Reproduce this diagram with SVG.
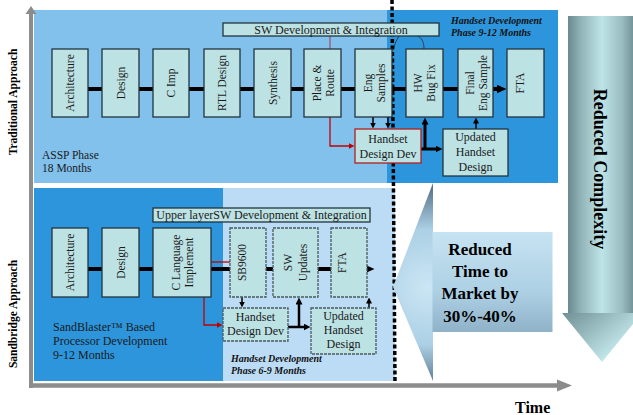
<svg xmlns="http://www.w3.org/2000/svg" width="633" height="415" viewBox="0 0 633 415">
<defs>
<style>
.box{fill:#bde2e4;stroke:#22343c;stroke-width:1.3}
.dbox{fill:#bde2e4;stroke:#4a5a60;stroke-width:1.3;stroke-dasharray:3 1}
.rbox{fill:#bde2e4;stroke:#b02020;stroke-width:1.3}
.t{font-family:"Liberation Serif","Times New Roman",serif;font-size:11.5px;fill:#1a1a1a}
.h{font-family:"Liberation Serif","Times New Roman",serif;font-size:12px;fill:#1a1a1a}
.c{text-anchor:middle}
.bi{font-family:"Liberation Serif","Times New Roman",serif;font-size:10px;font-weight:bold;font-style:italic;fill:#111}
.big{font-family:"Liberation Serif","Times New Roman",serif;font-weight:bold;fill:#000}
.ln{fill:none;stroke:#000}
.rd{fill:none;stroke:#c00000;stroke-width:1.3}
</style>
<marker id="a" markerUnits="userSpaceOnUse" markerWidth="10" markerHeight="9" refX="0.5" refY="4.5" orient="auto"><path d="M0,0 L10,4.5 L0,9 z" fill="#000"/></marker>
<marker id="m" markerUnits="userSpaceOnUse" markerWidth="7" markerHeight="7" refX="0.5" refY="3.5" orient="auto"><path d="M0,0 L7,3.5 L0,7 z" fill="#000"/></marker>
<marker id="s" markerUnits="userSpaceOnUse" markerWidth="6" markerHeight="6" refX="0.5" refY="3" orient="auto"><path d="M0,0 L6,3 L0,6 z" fill="#000"/></marker>
<marker id="r" markerUnits="userSpaceOnUse" markerWidth="6" markerHeight="6" refX="0.5" refY="3" orient="auto"><path d="M0,0 L6,3 L0,6 z" fill="#c00000"/></marker>
<radialGradient id="hg" gradientUnits="userSpaceOnUse" cx="428" cy="287" r="105">
<stop offset="0" stop-color="#cbe6f4"/><stop offset="0.55" stop-color="#acd0e5"/><stop offset="1" stop-color="#4d687d"/>
</radialGradient>
<linearGradient id="sg" gradientUnits="userSpaceOnUse" x1="0" y1="232" x2="0" y2="332">
<stop offset="0" stop-color="#c6e3f2"/><stop offset="0.6" stop-color="#add0e4"/><stop offset="1" stop-color="#8fb2c9"/>
</linearGradient>
<linearGradient id="cg" gradientUnits="userSpaceOnUse" x1="568" y1="0" x2="636" y2="0">
<stop offset="0" stop-color="#6a8a8e"/><stop offset="0.18" stop-color="#8fb2b6"/><stop offset="0.5" stop-color="#bfe4e8"/><stop offset="0.8" stop-color="#98bcc0"/><stop offset="1" stop-color="#6a8a8e"/>
</linearGradient>
<linearGradient id="cg2" gradientUnits="userSpaceOnUse" x1="562" y1="313" x2="602" y2="362">
<stop offset="0" stop-color="#6f9094"/><stop offset="1" stop-color="#c2e7ea"/>
</linearGradient>
</defs>
<rect width="633" height="415" fill="#fff"/>
<g id="panels">
<rect x="34" y="10" width="353" height="173" fill="#82c1ec"/>
<rect x="387" y="10" width="171" height="173" fill="#2d95dc"/>
<rect x="34" y="188" width="189" height="193" fill="#2d95dc"/>
<rect x="223" y="188" width="172" height="193" fill="#bcdcf5"/>
</g>
<g id="axes">
<path d="M31,388 V13" stroke="#8c8c8c" stroke-width="4" fill="none"/>
<path d="M25.5,14 L36.5,14 L31,6 z" fill="#8c8c8c"/>
<path d="M29,385.5 H558" stroke="#8c8c8c" stroke-width="4.5" fill="none"/>
<path d="M557,379.5 L557,391.5 L572,385.5 z" fill="#8c8c8c"/>
<text class="big" font-size="11.5" text-anchor="middle" transform="translate(13,102) rotate(-90)" y="4">Traditional Approach</text>
<text class="big" font-size="11.5" text-anchor="middle" transform="translate(13,314) rotate(-90)" y="4">Sandbridge Approach</text>
<text class="big" font-size="16" x="515" y="413">Time</text>
</g>
<g id="connectors">
<path class="ln" d="M88,89 H497" stroke-width="4" marker-end="url(#a)"/>
<path class="ln" d="M373,117 V123" stroke-width="1.5" marker-end="url(#s)"/>
<path class="ln" d="M388,117 V123" stroke-width="1.5" marker-end="url(#s)"/>
<path class="ln" d="M421,149 H436" stroke-width="3" marker-end="url(#m)"/>
<path class="ln" d="M425,150 V124" stroke-width="3" marker-end="url(#m)"/>
<path class="ln" d="M476,129 V123" stroke-width="1.5" marker-end="url(#s)"/>
<path d="M330,36 V49" fill="none" stroke="#9a5870" stroke-width="1.3"/>
<path class="rd" d="M330,49 V146 H349" marker-end="url(#r)"/>
<path d="M399,36 C396,41 394,45 394,49" fill="none" stroke="#28405a" stroke-width="1"/>
<path d="M418,36 C423,39 424,44 424,49" fill="none" stroke="#28405a" stroke-width="1"/>
<path class="ln" d="M88,269 H365" stroke-width="4" marker-end="url(#a)"/>
<path class="rd" d="M211,262 H230"/>
<path class="rd" d="M204,297 V325 H217" marker-end="url(#r)"/>
<path class="ln" d="M242,297 V302" stroke-width="1.5" marker-end="url(#s)"/>
<path class="ln" d="M288,327 H304" stroke-width="2.5" marker-end="url(#m)"/>
<path class="ln" d="M299,328 V304" stroke-width="2.5" marker-end="url(#m)"/>
<path class="ln" d="M369,308 V303" stroke-width="1.5" marker-end="url(#s)"/>
</g>
<line id="boundary" x1="392" y1="0" x2="395" y2="383" stroke="#000" stroke-width="3.5" stroke-dasharray="4 2.5"/>
<g id="n-swdev"><rect class="box" x="223" y="23" width="216" height="13"/><text class="h c" x="331" y="33.5">SW Development &amp; Integration</text></g>
<g id="n-arch1"><rect class="box" x="52" y="49" width="36" height="68"/><text class="t c" transform="translate(70,83) rotate(-90)" y="4">Architecture</text></g>
<g id="n-design1"><rect class="box" x="102" y="49" width="37" height="68"/><text class="t c" transform="translate(120.5,83) rotate(-90)" y="4">Design</text></g>
<g id="n-cimp"><rect class="box" x="153" y="49" width="36" height="68"/><text class="t c" transform="translate(171,83) rotate(-90)" y="4">C Imp</text></g>
<g id="n-rtl"><rect class="box" x="204" y="49" width="36" height="68"/><text class="t c" transform="translate(222,83) rotate(-90)" y="4">RTL Design</text></g>
<g id="n-synth"><rect class="box" x="254" y="49" width="37" height="68"/><text class="t c" transform="translate(272.5,83) rotate(-90)" y="4">Synthesis</text></g>
<g id="n-pr"><rect class="box" x="304" y="49" width="37" height="68"/><text class="t c" transform="translate(322.5,83) rotate(-90)"><tspan x="0" y="-2">Place &amp;</tspan><tspan x="0" y="11">Route</tspan></text></g>
<g id="n-eng"><rect class="box" x="355" y="49" width="37" height="68"/><text class="t c" transform="translate(373.5,83) rotate(-90)"><tspan x="0" y="-2">Eng</tspan><tspan x="0" y="11">Samples</tspan></text></g>
<g id="n-hw"><rect class="box" x="406" y="49" width="37" height="68"/><text class="t c" transform="translate(424.5,83) rotate(-90)"><tspan x="0" y="-3">HW</tspan><tspan x="0" y="10">Bug Fix</tspan></text></g>
<g id="n-final"><rect class="box" x="458" y="49" width="35" height="68"/><text class="t c" transform="translate(475.5,83) rotate(-90)"><tspan x="0" y="-2">Final</tspan><tspan x="0" y="11">Eng Sample</tspan></text></g>
<g id="n-fta1"><rect class="box" x="507" y="49" width="37" height="68"/><text class="t c" transform="translate(525.5,83) rotate(-90)" y="-2">FTA</text></g>
<g id="n-hdd1"><rect class="rbox" x="355" y="129" width="66" height="34"/><text class="h c" x="388"><tspan x="388" y="143">Handset</tspan><tspan x="388" y="158">Design Dev</tspan></text></g>
<g id="n-uhd1"><rect class="box" x="443" y="129" width="65" height="47"/><text class="h c"><tspan x="475.5" y="141">Updated</tspan><tspan x="475.5" y="156">Handset</tspan><tspan x="475.5" y="171">Design</tspan></text></g>
<g id="n-upper"><rect class="box" x="153" y="208" width="217" height="14"/><text class="h c" x="261.5" y="219">Upper layerSW Development &amp; Integration</text></g>
<g id="n-arch2"><rect class="box" x="52" y="228" width="36" height="69"/><text class="t c" transform="translate(70,262.5) rotate(-90)" y="4">Architecture</text></g>
<g id="n-design2"><rect class="box" x="102" y="228" width="37" height="69"/><text class="t c" transform="translate(120.5,262.5) rotate(-90)" y="4">Design</text></g>
<g id="n-clang"><rect class="box" x="153" y="228" width="58" height="69"/><text class="t c" transform="translate(182,262.5) rotate(-90)"><tspan x="0" y="-2">C Language</tspan><tspan x="0" y="11">Implement</tspan></text></g>
<g id="n-sb"><rect class="dbox" x="230" y="228" width="36" height="69"/><text class="t c" transform="translate(248,262.5) rotate(-90)" y="-2">SB9600</text></g>
<g id="n-swu"><rect class="dbox" x="273" y="228" width="45" height="69"/><text class="t c" transform="translate(295.5,262.5) rotate(-90)"><tspan x="0" y="-4">SW</tspan><tspan x="0" y="11">Updates</tspan></text></g>
<g id="n-fta2"><rect class="dbox" x="331" y="228" width="36" height="69"/><text class="t c" transform="translate(349,262.5) rotate(-90)" y="-3">FTA</text></g>
<g id="n-hdd2"><rect class="dbox" x="223" y="308" width="65" height="33"/><text class="h c"><tspan x="255.5" y="321">Handset</tspan><tspan x="255.5" y="335">Design Dev</tspan></text></g>
<g id="n-uhd2"><rect class="dbox" x="311" y="308" width="65" height="46"/><text class="h c"><tspan x="343.5" y="320">Updated</tspan><tspan x="343.5" y="334">Handset</tspan><tspan x="343.5" y="348">Design</tspan></text></g>
<g id="labels">
<text class="t" x="42" y="159" fill="#1c2a3a">ASSP Phase</text>
<text class="t" x="42" y="172" fill="#1c2a3a">18 Months</text>
<text class="h" x="53" y="331">SandBlaster™ Based</text>
<text class="h" x="53" y="345"> Processor Development</text>
<text class="h" x="53" y="359">9-12 Months</text>
<text class="bi" x="451" y="24">Handset Development</text>
<text class="bi" x="451" y="36">Phase 9-12 Months</text>
<text class="bi" x="231" y="362">Handset Development</text>
<text class="bi" x="231" y="374">Phase 6-9 Months</text>
</g>
<g id="time-arrow">
<polygon points="393,287 433,183 433,381" fill="url(#hg)"/>
<rect x="432.5" y="232" width="120" height="100" fill="url(#sg)"/>
<text class="big c" font-size="17"><tspan x="480" y="255">Reduced</tspan><tspan x="480" y="277">Time to</tspan><tspan x="480" y="299">Market by</tspan><tspan x="480" y="322">30%-40%</tspan></text>
</g>
<g id="complexity-arrow">
<rect x="568" y="16" width="68" height="297.5" fill="url(#cg)"/>
<polygon points="562,313 642,313 602,362" fill="url(#cg2)"/>
<text class="big c" font-size="18" transform="translate(600,169) rotate(90)" y="6">Reduced Complexity</text>
</g>
</svg>
